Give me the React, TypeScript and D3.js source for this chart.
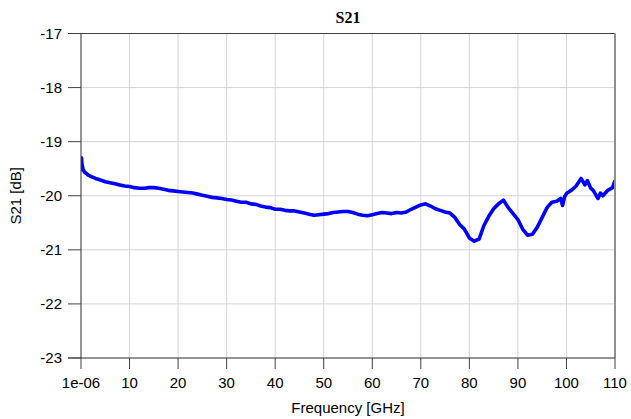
import React from "react";
import * as d3 from "d3";

const freqGHz = [0, 0.1, 0.2, 0.4, 0.7, 1, 1.5, 2, 3, 4, 5, 6, 7, 8, 9, 10, 11, 12, 13, 14, 15, 16, 17, 18, 19, 20, 21, 22, 23, 24, 25, 26, 27, 28, 29, 30, 31, 32, 33, 34, 35, 36, 37, 38, 39, 40, 41, 42, 43, 44, 45, 46, 47, 48, 49, 50, 51, 52, 53, 54, 55, 56, 57, 58, 59, 60, 61, 62, 63, 64, 65, 66, 67, 68, 69, 70, 71, 72, 73, 74, 75, 76, 77, 78, 79, 80, 81, 82, 83, 84, 85, 86, 87, 88, 89, 90, 91, 92, 93, 94, 95, 96, 97, 98, 98.8, 99.2, 99.6, 100, 101, 102, 103, 103.8, 104.3, 105, 105.5, 106.5, 107, 107.5, 108.5, 109.5, 110];
const s21dB = [-19.55, -19.3, -19.42, -19.5, -19.56, -19.58, -19.62, -19.64, -19.68, -19.71, -19.74, -19.76, -19.78, -19.8, -19.82, -19.83, -19.85, -19.86, -19.86, -19.85, -19.85, -19.86, -19.88, -19.9, -19.91, -19.92, -19.93, -19.94, -19.95, -19.97, -19.99, -20.01, -20.03, -20.04, -20.05, -20.07, -20.08, -20.1, -20.12, -20.12, -20.15, -20.16, -20.19, -20.21, -20.22, -20.25, -20.25, -20.27, -20.28, -20.28, -20.3, -20.32, -20.34, -20.36, -20.35, -20.34, -20.33, -20.31, -20.3, -20.29, -20.29, -20.31, -20.34, -20.36, -20.37, -20.35, -20.33, -20.31, -20.32, -20.33, -20.31, -20.32, -20.3, -20.25, -20.21, -20.17, -20.15, -20.19, -20.24, -20.27, -20.3, -20.32, -20.4, -20.53, -20.62, -20.78, -20.84, -20.8, -20.55, -20.38, -20.24, -20.15, -20.08, -20.22, -20.33, -20.44, -20.62, -20.73, -20.71, -20.58, -20.4, -20.22, -20.12, -20.1, -20.05, -20.18, -20.02, -19.96, -19.9, -19.82, -19.68, -19.8, -19.72, -19.86, -19.9, -20.05, -19.95, -20.0, -19.9, -19.85, -19.72];

const xTickValues = [0, 10, 20, 30, 40, 50, 60, 70, 80, 90, 100, 110];
const xTickLabels = ["1e-06", "10", "20", "30", "40", "50", "60", "70", "80", "90", "100", "110"];
const yTickValues = [-17, -18, -19, -20, -21, -22, -23];

const W = 631;
const H = 419;
const M = { left: 81, right: 16, top: 33.5, bottom: 61 };

export default function App() {
  const x = d3.scaleLinear().domain([0, 110]).range([M.left, W - M.right]);
  const y = d3.scaleLinear().domain([-23, -17]).range([H - M.bottom, M.top]);
  const pts = freqGHz.map((f, i) => [f, s21dB[i]] as [number, number]);
  const line = d3
    .line<[number, number]>()
    .x((d) => x(d[0]))
    .y((d) => y(d[1]));
  const x0 = x(0), x1 = x(110), y0 = y(-23), y1 = y(-17);
  const font = "'Liberation Sans', Arial, sans-serif";
  return (
    <svg
      width={W}
      height={H}
      style={{ position: "absolute", left: 0, top: 0, background: "#fff" }}
    >
      <defs>
        <clipPath id="plotclip">
          <rect x={x0} y={y1} width={x1 - x0} height={y0 - y1} />
        </clipPath>
      </defs>
      {xTickValues.map((v) => (
        <line key={"gx" + v} x1={x(v)} x2={x(v)} y1={y1} y2={y0} stroke="#d4d4d4" strokeWidth={1} />
      ))}
      {yTickValues.map((v) => (
        <line key={"gy" + v} x1={x0} x2={x1} y1={y(v)} y2={y(v)} stroke="#d4d4d4" strokeWidth={1} />
      ))}
      <path
        d={line(pts) || ""}
        fill="none"
        stroke="#0000ff"
        strokeWidth={3.6}
        strokeLinejoin="round"
        clipPath="url(#plotclip)"
      />
      <line x1={x0} x2={x1} y1={y1} y2={y1} stroke="#404040" strokeWidth={1} />
      <line x1={x1} x2={x1} y1={y1} y2={y0} stroke="#909090" strokeWidth={2} />
      <line x1={x0} x2={x0} y1={y1} y2={y0} stroke="#404040" strokeWidth={1} />
      <line x1={x0 - 13} x2={x1} y1={y0} y2={y0} stroke="#404040" strokeWidth={1} />
      {yTickValues.map((v) => (
        <g key={"ty" + v}>
          <line x1={x0 - 13} x2={x0} y1={y(v)} y2={y(v)} stroke="#404040" strokeWidth={1} />
          <text x={x0 - 19} y={y(v)} dy="0.35em" textAnchor="end" fontSize={15} fontFamily={font} fill="#000">
            {v}
          </text>
        </g>
      ))}
      {xTickValues.map((v, i) => (
        <g key={"tx" + v}>
          <line x1={x(v)} x2={x(v)} y1={y0} y2={y0 + 11} stroke="#404040" strokeWidth={1} />
          <text x={x(v)} y={y0 + 30} textAnchor="middle" fontSize={15} fontFamily={font} fill="#000">
            {xTickLabels[i]}
          </text>
        </g>
      ))}
      <text x={(x0 + x1) / 2} y={H - 6} textAnchor="middle" fontSize={15} fontFamily={font} fill="#000">
        Frequency [GHz]
      </text>
      <text
        transform={`translate(21,${(y0 + y1) / 2}) rotate(-90)`}
        textAnchor="middle"
        fontSize={15}
        fontFamily={font}
        fill="#000"
      >
        S21 [dB]
      </text>
      <text
        x={(x0 + x1) / 2}
        y={23}
        textAnchor="middle"
        fontSize={16}
        fontWeight="bold"
        fontFamily="'Liberation Serif', 'Times New Roman', serif"
        fill="#000"
      >
        S21
      </text>
    </svg>
  );
}
